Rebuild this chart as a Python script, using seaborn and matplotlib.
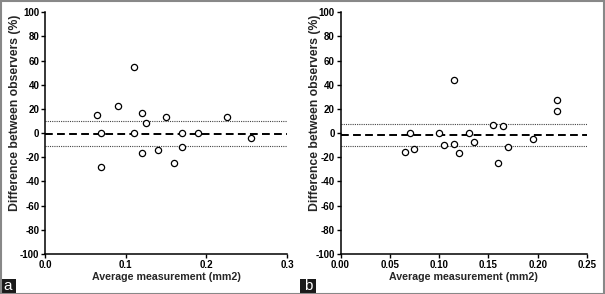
import numpy as np
import pandas as pd
import matplotlib
matplotlib.use('Agg')
import matplotlib.pyplot as plt
from matplotlib.patches import Rectangle
import seaborn as sns

# Panel a: average measurement vs. percent difference
avg_a = [0.065, 0.07, 0.07, 0.09, 0.11, 0.11, 0.12, 0.12, 0.125, 0.15,
         0.14, 0.16, 0.17, 0.17, 0.19, 0.225, 0.255]
diff_a = [15.4, 0.0, -28.4, 22.3, 54.9, 0.0, 16.8, -16.6, 8.0, 13.5,
          -14.0, -24.8, 0.0, -11.6, 0.0, 13.5, -3.6]
bias_a = -0.5
loa_a = [10.2, -11.0]

# Panel b
avg_b = [0.065, 0.07, 0.075, 0.10, 0.105, 0.115, 0.115, 0.12, 0.13, 0.135,
         0.155, 0.16, 0.165, 0.17, 0.195, 0.22, 0.22]
diff_b = [-15.5, 0.0, -13.3, 0.0, -9.5, 43.7, -8.7, -16.6, 0.0, -7.3,
          6.5, -25.0, 6.3, -11.7, -4.9, 27.5, 18.3]
bias_b = -1.9
loa_b = [7.6, -10.6]

xlims = [0.3, 0.25]
xticks = [[0.0, 0.1, 0.2, 0.3], [0.00, 0.05, 0.10, 0.15, 0.20, 0.25]]
xfmt = ['{:.1f}', '{:.2f}']
yticks = list(range(-100, 101, 20))
panel_labels = ['a', 'b']

sns.set_style('ticks')
plt.rcParams['font.family'] = ['Liberation Sans', 'DejaVu Sans']
plt.rcParams['font.weight'] = 'bold'
plt.rcParams['axes.unicode_minus'] = False

fig = plt.figure(figsize=(6.05, 2.94), dpi=100)
W, H = 605, 294
boxes = [(45, 287), (340.5, 587)]
ylab_x = [-0.10, -0.08]
top, bottom = 12.3, 254

panels = [(avg_a, diff_a, bias_a, loa_a), (avg_b, diff_b, bias_b, loa_b)]
for i, (xs, ys, bias, loa) in enumerate(panels):
    l, r = boxes[i]
    ax = fig.add_axes([l / W, (H - bottom) / H, (r - l) / W, (bottom - top) / H])
    df = pd.DataFrame({'avg': xs, 'diff': ys})
    ax.axhline(bias, color='black', ls=(0, (4, 2.2)), lw=1.4, zorder=1)
    for v in loa:
        ax.axhline(v, color='#444444', ls=(0, (1, 1)), lw=0.8, zorder=1)
    sns.scatterplot(data=df, x='avg', y='diff', ax=ax, s=20, marker='o',
                    facecolor='white', edgecolor='black', linewidth=0.9, zorder=3)
    ax.set_xlim(0, xlims[i])
    ax.set_ylim(-100, 100)
    ax.set_xticks(xticks[i])
    ax.set_xticklabels([xfmt[i].format(t) for t in xticks[i]])
    ax.set_yticks(yticks)
    ax.set_xlabel('Average measurement (mm2)', fontsize=7.7, fontweight='bold', labelpad=2)
    ax.set_ylabel('Difference between observers (%)', fontsize=8.8, fontweight='bold', labelpad=1)
    ax.yaxis.set_label_coords(ylab_x[i], 0.585)
    ax.tick_params(labelsize=7, length=3, width=1, pad=1, colors='black')
    for t in ax.get_xticklabels() + ax.get_yticklabels():
        t.set_fontweight('bold')
    sns.despine(ax=ax)
    for s in ['left', 'bottom']:
        ax.spines[s].set_linewidth(1.1)
        ax.spines[s].set_color('black')
    ax.grid(False)

# panel letter boxes
for x0, lab in [(0, 'a'), (300, 'b')]:
    fig.patches.append(Rectangle((x0 / W, 1 / H), 16 / W, 14 / H, transform=fig.transFigure,
                                 facecolor='#1a1a1a', edgecolor='none', zorder=5))
    fig.text((x0 + 8) / W, 8.5 / H, lab, color='white', fontsize=11, fontweight='normal',
             ha='center', va='center', zorder=6)

# outer grey frame
fig.patches.append(Rectangle((0.5 / W, 0.5 / H), 1 - 1.5 / W, 1 - 1.5 / H, transform=fig.transFigure,
                             facecolor='none', edgecolor='#888888', lw=1.5, zorder=7))

fig.savefig('out.png', dpi=100)
